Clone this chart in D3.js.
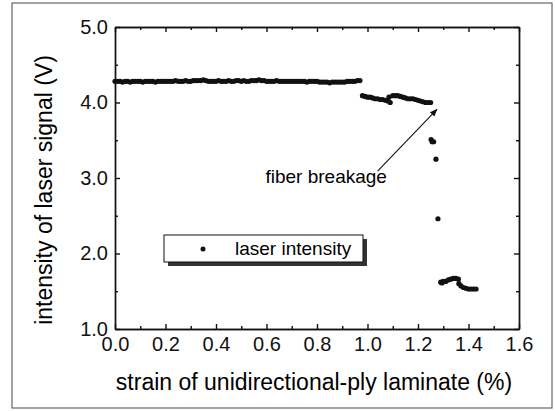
<!DOCTYPE html>
<style>
  body { margin: 0; background: white; }
  svg { font-family: "Liberation Sans", Arial, sans-serif; }
</style>
<body>
</body>
<script src="https://cdn.jsdelivr.net/npm/d3@7"></script>
<script>
  // values
  const strain = [
    0.00, 0.01, 0.02, 0.03, 0.04, 0.05, 0.06, 0.07, 0.08, 0.09,
    0.10, 0.11, 0.12, 0.13, 0.14, 0.15, 0.16, 0.17, 0.18, 0.19,
    0.20, 0.21, 0.22, 0.23, 0.24, 0.25, 0.26, 0.27, 0.28, 0.29,
    0.30, 0.31, 0.32, 0.33, 0.34, 0.35, 0.36, 0.37, 0.38, 0.39,
    0.40, 0.41, 0.42, 0.43, 0.44, 0.45, 0.46, 0.47, 0.48, 0.49,
    0.50, 0.51, 0.52, 0.53, 0.54, 0.55, 0.56, 0.57, 0.58, 0.59,
    0.60, 0.61, 0.62, 0.63, 0.64, 0.65, 0.66, 0.67, 0.68, 0.69,
    0.70, 0.71, 0.72, 0.73, 0.74, 0.75, 0.76, 0.77, 0.78, 0.79,
    0.80, 0.81, 0.82, 0.83, 0.84, 0.85, 0.86, 0.87, 0.88, 0.89,
    0.90, 0.91, 0.92, 0.93, 0.94, 0.95, 0.96, 0.97,
    0.98, 0.99, 1.00, 1.01, 1.02, 1.03, 1.04, 1.05, 1.06, 1.07, 1.08, 1.09,
    1.085, 1.10, 1.11, 1.12, 1.13, 1.14, 1.15, 1.16, 1.17, 1.18, 1.19,
    1.20, 1.21, 1.22, 1.23, 1.24, 1.25,
    1.252, 1.256, 1.262, 1.271, 1.279,
    1.29, 1.295, 1.30, 1.31, 1.32, 1.33, 1.34, 1.35, 1.36,
    1.362, 1.37, 1.38, 1.39, 1.40, 1.41, 1.42, 1.43
  ];
  const signal = [
    4.28, 4.28, 4.28, 4.27, 4.28, 4.28, 4.27, 4.28, 4.28, 4.28,
    4.28, 4.27, 4.28, 4.28, 4.28, 4.28, 4.27, 4.28, 4.28, 4.28,
    4.28, 4.28, 4.28, 4.28, 4.29, 4.28, 4.28, 4.28, 4.29, 4.28,
    4.28, 4.29, 4.29, 4.29, 4.29, 4.30, 4.29, 4.28, 4.28, 4.28,
    4.28, 4.29, 4.28, 4.28, 4.28, 4.29, 4.28, 4.28, 4.29, 4.29,
    4.28, 4.29, 4.28, 4.28, 4.29, 4.29, 4.29, 4.30, 4.29, 4.29,
    4.28, 4.28, 4.28, 4.28, 4.29, 4.28, 4.28, 4.28, 4.28, 4.28,
    4.28, 4.28, 4.28, 4.28, 4.28, 4.28, 4.27, 4.28, 4.28, 4.28,
    4.28, 4.27, 4.27, 4.27, 4.27, 4.26, 4.27, 4.27, 4.27, 4.27,
    4.27, 4.27, 4.28, 4.28, 4.28, 4.28, 4.29, 4.29,
    4.09, 4.08, 4.07, 4.07, 4.06, 4.05, 4.05, 4.04, 4.04, 4.03, 4.02, 4.00,
    4.07, 4.09, 4.09, 4.09, 4.08, 4.07, 4.06, 4.05, 4.05, 4.05, 4.04,
    4.03, 4.02, 4.01, 4.00, 4.00, 4.00,
    3.51, 3.48, 3.48, 3.25, 2.46,
    1.62, 1.61, 1.63, 1.63, 1.65, 1.66, 1.67, 1.67, 1.66,
    1.60, 1.57, 1.55, 1.54, 1.53, 1.53, 1.53, 1.53
  ];
  const xMajor = [0.0, 0.2, 0.4, 0.6, 0.8, 1.0, 1.2, 1.4, 1.6];
  const xMinor = [0.1, 0.3, 0.5, 0.7, 0.9, 1.1, 1.3, 1.5];
  const yMajor = [1.0, 2.0, 3.0, 4.0, 5.0];
  const yMinor = [1.5, 2.5, 3.5, 4.5];
  const xTitle = 'strain of unidirectional-ply laminate (%)';
  const yTitle = 'intensity of laser signal (V)';
  const seriesName = 'laser intensity';
  const note = 'fiber breakage';

  const w = 555, h = 411;
  const l = 115, r = 519, t = 27, b = 329;

  const svg = d3.select('body').append('svg')
    .attr('width', w)
    .attr('height', h);

  // scan frame
  svg.append('rect')
    .attr('x', 12).attr('y', 3)
    .attr('width', 540).attr('height', 405)
    .attr('fill', 'none')
    .attr('stroke', '#666')
    .attr('stroke-width', 1.2);

  const x = d3.scaleLinear().domain([0, 1.6]).range([l, r]);
  const y = d3.scaleLinear().domain([1, 5]).range([b, t]);
  const fmt = d3.format('.1f');

  function axis(gen, tx, ty, ticks, size, labels) {
    const g = svg.append('g')
      .attr('transform', `translate(${tx}, ${ty})`)
      .call(gen.tickValues(ticks).tickSizeInner(-size).tickSizeOuter(0)
        .tickPadding(labels ? 6 : 0)
        .tickFormat(labels ? fmt : ''));
    g.selectAll('path, line').attr('stroke', '#111').attr('stroke-width', 1.4);
    g.selectAll('text').attr('fill', '#111').style('font-size', '20px');
    return g;
  }

  axis(d3.axisBottom(x), 0, b, xMajor, 5, true).selectAll('text').attr('dy', '0.8em');
  axis(d3.axisBottom(x), 0, b, xMinor, 3, false);
  axis(d3.axisTop(x), 0, t, xMajor, 5, false);
  axis(d3.axisTop(x), 0, t, xMinor, 3, false);
  axis(d3.axisLeft(y), l, 0, yMajor, 5, true).selectAll('text').attr('dx', '-1px');
  axis(d3.axisLeft(y), l, 0, yMinor, 3, false);
  axis(d3.axisRight(y), r, 0, yMajor, 5, false);
  axis(d3.axisRight(y), r, 0, yMinor, 3, false);

  // axis titles
  svg.append('text')
    .attr('x', (l + r) / 2 - 3)
    .attr('y', 390)
    .attr('text-anchor', 'middle')
    .style('font-size', '23px')
    .text(xTitle);

  svg.append('text')
    .attr('transform', `translate(52, ${(t + b) / 2 + 12}) rotate(-90)`)
    .attr('text-anchor', 'middle')
    .style('font-size', '23px')
    .text(yTitle);

  // data
  svg.append('g')
    .selectAll('circle')
    .data(d3.zip(strain, signal))
    .join('circle')
      .attr('cx', d => x(d[0]))
      .attr('cy', d => y(d[1]))
      .attr('r', 2.6)
      .attr('fill', '#111');

  // annotation
  svg.append('defs').append('marker')
    .attr('id', 'head')
    .attr('viewBox', '0 0 10 10')
    .attr('refX', 9).attr('refY', 5)
    .attr('markerWidth', 7).attr('markerHeight', 7)
    .attr('orient', 'auto')
    .append('path')
      .attr('d', 'M0,1 L10,5 L0,9 Z')
      .attr('fill', '#111');

  svg.append('line')
    .attr('x1', x(1.04)).attr('y1', y(3.09))
    .attr('x2', x(1.275)).attr('y2', y(3.91))
    .attr('stroke', '#111')
    .attr('stroke-width', 1.1)
    .attr('marker-end', 'url(#head)');

  svg.append('text')
    .attr('x', x(1.077))
    .attr('y', y(2.93))
    .attr('text-anchor', 'end')
    .style('font-size', '19px')
    .text(note);

  // legend with drop shadow
  const lg = svg.append('g').attr('transform', 'translate(164, 235)');
  lg.append('rect')
    .attr('x', 4).attr('y', 4)
    .attr('width', 199).attr('height', 27)
    .attr('fill', '#333');
  lg.append('rect')
    .attr('width', 199).attr('height', 27)
    .attr('fill', 'white')
    .attr('stroke', '#111')
    .attr('stroke-width', 1);
  lg.append('circle')
    .attr('cx', 39).attr('cy', 14)
    .attr('r', 2.5)
    .attr('fill', '#111');
  lg.append('text')
    .attr('x', 71).attr('y', 20)
    .style('font-size', '19px')
    .text(seriesName);
</script>
